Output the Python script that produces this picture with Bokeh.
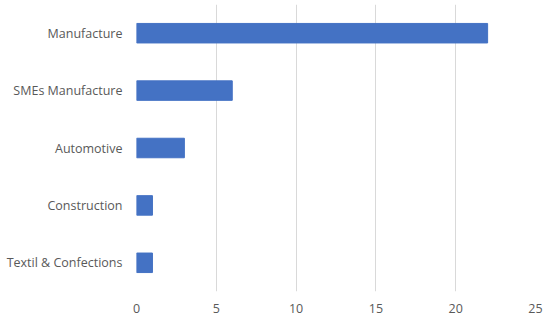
from bokeh.plotting import figure
from bokeh.models import FactorRange, Range1d, SingleIntervalTicker
from bokeh.embed import file_html
from bokeh.resources import INLINE

categories = ["Manufacture", "SMEs Manufacture", "Automotive", "Construction", "Textil & Confections"]
values = [22, 6, 3, 1, 1]
x_max = 25
x_ticks_interval = 5

factors = list(reversed(categories))
vals = list(reversed(values))

p = figure(width=550, height=321, output_backend="svg", toolbar_location=None,
           y_range=FactorRange(*factors, range_padding=0), x_range=Range1d(0, x_max),
           min_border_left=136, min_border_right=15, min_border_top=4, min_border_bottom=30)
p.outline_line_color = None
p.background_fill_color = "white"
p.border_fill_color = "white"

p.hbar(y=factors, right=vals, left=0, height=0.34, fill_color="#4472C4", line_color="#4472C4")

p.xaxis.ticker = SingleIntervalTicker(interval=x_ticks_interval)
for ax in (p.xaxis, p.yaxis):
    ax.axis_line_color = None
    ax.major_tick_line_color = None
    ax.minor_tick_line_color = None
    ax.major_tick_out = 0
    ax.major_tick_in = 0
    ax.minor_tick_out = 0
    ax.minor_tick_in = 0
    ax.major_label_text_color = "#595959"
    ax.major_label_text_font = "Open Sans"
    ax.major_label_text_font_size = "12.5px"
p.yaxis.major_label_standoff = 14
p.xaxis.major_label_standoff = 12
p.ygrid.grid_line_color = None
p.xgrid.grid_line_color = "#d9d9d9"
p.xgrid.grid_line_width = 1

open("out.html", "w").write(file_html(p, INLINE))
